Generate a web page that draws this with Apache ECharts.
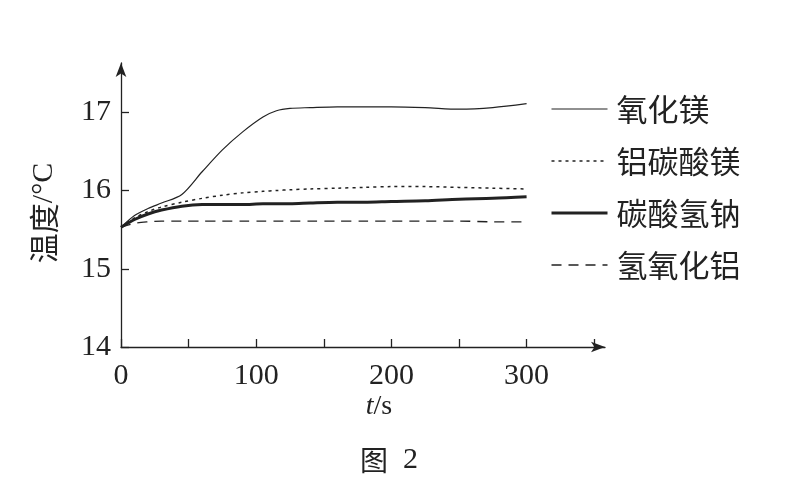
<!DOCTYPE html>
<html>
<head>
<meta charset="utf-8">
<script src="https://cdn.jsdelivr.net/npm/echarts@6/dist/echarts.min.js"></script>
<style>
    html, body { margin: 0; padding: 0; background: #fff; }
    #chart { width: 785px; height: 484px; }
</style>
</head>
<body>
<div id="chart"></div>
<script>
    // 时间 t/s
    const times = [0, 10, 20, 30, 45, 60, 75, 90, 105, 115, 125, 140, 160, 180, 200, 225, 250, 275, 300];
    // 各物质温度 /°C
    const mgo = [15.53, 15.68, 15.77, 15.84, 15.95, 16.24, 16.52, 16.75, 16.94, 17.02, 17.05, 17.06, 17.07, 17.07, 17.07, 17.06, 17.04, 17.06, 17.11];
    const alMgCarbonate = [15.53, 15.65, 15.73, 15.79, 15.85, 15.9, 15.94, 15.97, 15.99, 16.0, 16.01, 16.02, 16.03, 16.04, 16.05, 16.05, 16.04, 16.03, 16.02];
    const nahco3 = [15.53, 15.63, 15.7, 15.75, 15.8, 15.82, 15.82, 15.82, 15.83, 15.83, 15.83, 15.84, 15.85, 15.85, 15.86, 15.87, 15.89, 15.9, 15.92];
    const alOH3 = [15.53, 15.58, 15.6, 15.61, 15.61, 15.61, 15.61, 15.61, 15.61, 15.61, 15.61, 15.61, 15.61, 15.61, 15.61, 15.61, 15.61, 15.6, 15.6];
    const names = ['氧化镁', '铝碳酸镁', '碳酸氢钠', '氢氧化铝'];

    const pair = arr => times.map((t, i) => [t, arr[i]]);
    const ink = '#222';
    const serif = '"Liberation Serif", "DejaVu Serif", serif';
    const cjk = '"Noto Sans CJK SC", sans-serif';

    const widths = [1.2, 1.5, 3, 1.3];
    const dashes = ['solid', [3, 4], 'solid', [10, 7]];
    const values = [mgo, alMgCarbonate, nahco3, alOH3];

    const chart = echarts.init(document.getElementById('chart'));

    const option = {
        animation: false,
        backgroundColor: '#fff',
        grid: { left: 121, top: 63, width: 484, height: 284 },
        legend: {
            orient: 'vertical',
            left: 545,
            top: 86,
            itemWidth: 56,
            itemHeight: 14,
            itemGap: 16,
            data: names.map((n, i) => ({
                name: n,
                lineStyle: { width: widths[i], type: dashes[i], color: ink }
            })),
            itemStyle: { color: 'transparent', borderWidth: 0, opacity: 0 },
            textStyle: {
                fontFamily: cjk,
                fontSize: 31,
                color: ink,
                lineHeight: 36,
                padding: [0, 0, 0, 4]
            }
        },
        xAxis: {
            type: 'value',
            min: 0,
            max: 358,
            interval: 50,
            splitLine: { show: false },
            axisLine: {
                lineStyle: { color: ink, width: 1.3 },
                symbol: ['none', 'arrow'],
                symbolSize: [8, 14]
            },
            axisTick: { inside: true, length: 8, lineStyle: { color: ink, width: 1.3 } },
            axisLabel: {
                fontFamily: serif,
                fontSize: 30,
                color: ink,
                margin: 14,
                showMaxLabel: false,
                formatter: v => (v % 100 === 0 ? String(v) : '')
            }
        },
        yAxis: {
            type: 'value',
            min: 14,
            max: 17.63,
            interval: 1,
            splitLine: { show: false },
            axisLine: {
                lineStyle: { color: ink, width: 1.3 },
                symbol: ['none', 'arrow'],
                symbolSize: [8, 14]
            },
            axisTick: { inside: true, length: 8, lineStyle: { color: ink, width: 1.3 } },
            axisLabel: {
                fontFamily: serif,
                fontSize: 30,
                color: ink,
                margin: 10,
                showMaxLabel: false
            }
        },
        graphic: [
            {
                type: 'text',
                x: 44,
                y: 213,
                rotation: Math.PI / 2,
                style: {
                    text: '{c|温度}{l|/°C}',
                    align: 'center',
                    verticalAlign: 'middle',
                    fill: ink,
                    rich: {
                        c: { fontFamily: cjk, fontSize: 30, fill: ink },
                        l: { fontFamily: serif, fontSize: 30, fill: ink }
                    }
                }
            },
            {
                type: 'text',
                x: 379,
                y: 407,
                style: {
                    text: '{i|t}{n|/s}',
                    align: 'center',
                    verticalAlign: 'middle',
                    rich: {
                        i: { fontFamily: serif, fontSize: 28, fontStyle: 'italic', fill: ink },
                        n: { fontFamily: serif, fontSize: 28, fill: ink }
                    }
                }
            },
            {
                type: 'text',
                x: 389,
                y: 460,
                style: {
                    text: '{c|图}{n|  2}',
                    align: 'center',
                    verticalAlign: 'middle',
                    rich: {
                        c: { fontFamily: cjk, fontSize: 28, fill: ink },
                        n: { fontFamily: serif, fontSize: 30, fill: ink }
                    }
                }
            }
        ],
        series: names.map((n, i) => ({
            name: n,
            type: 'line',
            data: pair(values[i]),
            smooth: 0.3,
            symbol: 'none',
            lineStyle: { color: ink, width: widths[i], type: dashes[i] },
            itemStyle: { color: ink }
        }))
    };

    chart.setOption(option);
</script>
</body>
</html>
